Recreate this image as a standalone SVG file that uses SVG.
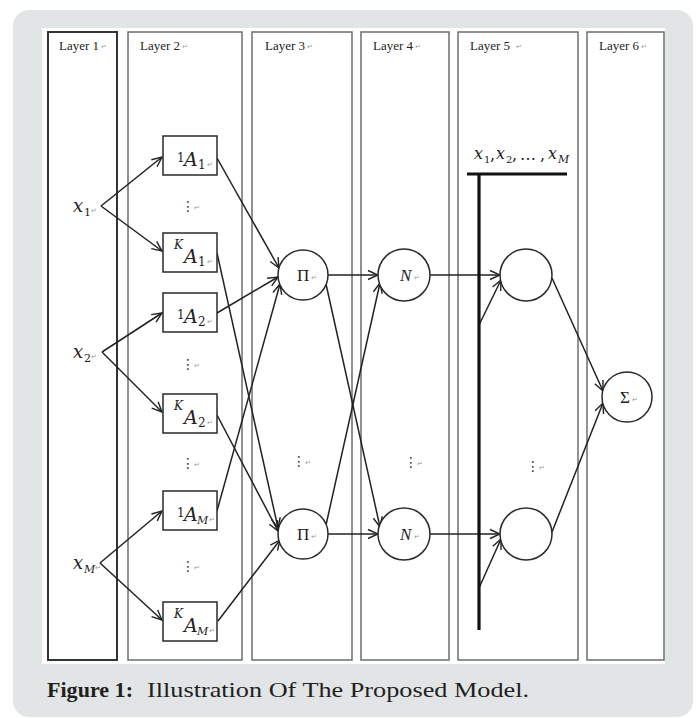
<svg xmlns="http://www.w3.org/2000/svg" width="696" height="718" viewBox="0 0 696 718">
<style>
.layer{fill:none;stroke:#6e6e6e;stroke-width:1.5}
.hdr{font-family:"Liberation Serif",serif;font-size:13px;fill:#222}
.ret{font-family:"DejaVu Sans",sans-serif;font-size:7px;fill:#9a9a9a}
.box{fill:#fff;stroke:#2a2a2a;stroke-width:1.5}
.circ{fill:#fff;stroke:#2a2a2a;stroke-width:1.5}
.m{font-family:"DejaVu Serif","Liberation Serif",serif;font-style:italic;fill:#222}
.s{font-family:"DejaVu Serif","Liberation Serif",serif;fill:#222}
.op{font-family:"Liberation Serif",serif;font-size:17px;fill:#222}
.dots{font-family:"DejaVu Sans",sans-serif;font-size:14px;fill:#333;text-anchor:middle}
.con{fill:none;stroke:#222;stroke-width:1.5;marker-end:url(#ah)}
.bus{fill:none;stroke:#111;stroke-width:3.2}
.cap{font-family:"Liberation Serif",serif;font-size:22px;fill:#231f20}
</style>
<defs>
<marker id="ah" markerUnits="userSpaceOnUse" markerWidth="12" markerHeight="12" viewBox="0 0 12 12" refX="11" refY="6" orient="auto">
<path d="M1,1.5 L11,6 L1,10.5" fill="none" stroke="#222" stroke-width="1.4"/>
</marker>
</defs>

<rect x="13" y="10" width="680" height="707" rx="16" fill="#e2e5e6"/>
<rect x="42" y="28" width="623" height="636" fill="#fff"/>

<g id="layers">
<rect x="48" y="32" width="69" height="628" fill="none" stroke="#333" stroke-width="2"/>
<rect class="layer" x="128" y="32" width="114" height="628"/>
<rect class="layer" x="252" y="32" width="100" height="628"/>
<rect class="layer" x="361" y="32" width="88" height="628"/>
<rect class="layer" x="458" y="32" width="120" height="628"/>
<rect class="layer" x="587" y="32" width="77" height="628"/>
<text class="hdr" x="59" y="50">Layer 1</text><text class="ret" x="101" y="49">↵</text>
<text class="hdr" x="140" y="50">Layer 2</text><text class="ret" x="182" y="49">↵</text>
<text class="hdr" x="265" y="50">Layer 3</text><text class="ret" x="307" y="49">↵</text>
<text class="hdr" x="373" y="50">Layer 4</text><text class="ret" x="415" y="49">↵</text>
<text class="hdr" x="470" y="50">Layer 5</text><text class="ret" x="516" y="49">↵</text>
<text class="hdr" x="599" y="50">Layer 6</text><text class="ret" x="641" y="49">↵</text>
</g>

<g id="dots">
<text class="dots" x="188" y="211">⋮</text><text class="ret" x="194" y="210">↵</text>
<text class="dots" x="188" y="369">⋮</text><text class="ret" x="194" y="368">↵</text>
<text class="dots" x="188" y="468">⋮</text><text class="ret" x="194" y="467">↵</text>
<text class="dots" x="188" y="571">⋮</text><text class="ret" x="194" y="570">↵</text>
<text class="dots" x="299" y="466">⋮</text><text class="ret" x="305" y="465">↵</text>
<text class="dots" x="411" y="467">⋮</text><text class="ret" x="417" y="466">↵</text>
<text class="dots" x="533" y="471">⋮</text><text class="ret" x="539" y="470">↵</text>
</g>

<g id="connectors">
<path class="con" d="M101,206 L162,157"/>
<path class="con" d="M101,206 L162,251"/>
<path class="con" d="M102,352 L162,313"/>
<path class="con" d="M102,352 L162,412"/>
<path class="con" d="M100,563 L162,511"/>
<path class="con" d="M100,563 L162,620"/>
<path class="con" d="M217,158 L279,268"/>
<path class="con" d="M217,313 L278,277"/>
<path class="con" d="M217,511 L280,284"/>
<path class="con" d="M217,253 L278,528"/>
<path class="con" d="M217,415 L278,531"/>
<path class="con" d="M218,621 L280,540"/>
<path class="con" d="M328,275 L378,275"/>
<path class="con" d="M326,284 L380,527"/>
<path class="con" d="M326,525 L380,283"/>
<path class="con" d="M328,534 L378,534"/>
<path class="con" d="M430,275 L500,275"/>
<path class="con" d="M430,534 L500,534"/>
<path class="con" d="M479,325 L501,280"/>
<path class="con" d="M479,588 L501,539"/>
<path class="con" d="M552,278 L603,391"/>
<path class="con" d="M552,532 L603,403"/>
</g>

<g id="bus">
<path class="bus" d="M467,174 L567,174 M479,174 L479,630"/>
<text class="m" x="474" y="159" font-size="16">x</text><text class="s" x="484" y="163" font-size="10">1</text>
<text class="s" x="490" y="160" font-size="16">,</text>
<text class="m" x="496" y="159" font-size="16">x</text><text class="s" x="506" y="163" font-size="10">2</text>
<text class="s" x="512" y="160" font-size="16">,</text>
<text class="s" x="520" y="160" font-size="16">…</text>
<text class="s" x="540" y="160" font-size="16">,</text>
<text class="m" x="548" y="159" font-size="16">x</text><text class="m" x="558" y="163" font-size="11">M</text>
</g>

<g id="x1"><text class="m" x="73" y="212" font-size="18">x</text><text class="s" x="84" y="216" font-size="11">1</text><text class="ret" x="91" y="213">↵</text></g>
<g id="x2"><text class="m" x="73" y="358" font-size="18">x</text><text class="s" x="84" y="362" font-size="11">2</text><text class="ret" x="91" y="359">↵</text></g>
<g id="xM"><text class="m" x="73" y="569" font-size="18">x</text><text class="m" x="84" y="573" font-size="11">M</text><text class="ret" x="95" y="570">↵</text></g>

<g id="A1_1"><rect class="box" x="163" y="136" width="54" height="39"/>
<text class="s" x="177" y="162" font-size="12">1</text><text class="m" x="184" y="166" font-size="19">A</text><text class="s" x="198" y="169" font-size="12">1</text><text class="ret" x="207" y="167">↵</text></g>
<g id="AK_1"><rect class="box" x="163" y="233" width="54" height="39"/>
<text class="m" x="174" y="249" font-size="12">K</text><text class="m" x="184" y="263" font-size="19">A</text><text class="s" x="198" y="266" font-size="12">1</text><text class="ret" x="207" y="264">↵</text></g>
<g id="A1_2"><rect class="box" x="163" y="293" width="54" height="39"/>
<text class="s" x="177" y="319" font-size="12">1</text><text class="m" x="184" y="323" font-size="19">A</text><text class="s" x="198" y="326" font-size="12">2</text><text class="ret" x="207" y="324">↵</text></g>
<g id="AK_2"><rect class="box" x="163" y="394" width="54" height="39"/>
<text class="m" x="174" y="410" font-size="12">K</text><text class="m" x="184" y="424" font-size="19">A</text><text class="s" x="198" y="427" font-size="12">2</text><text class="ret" x="207" y="425">↵</text></g>
<g id="A1_M"><rect class="box" x="163" y="491" width="54" height="39"/>
<text class="s" x="177" y="517" font-size="12">1</text><text class="m" x="184" y="521" font-size="19">A</text><text class="m" x="197" y="524" font-size="11">M</text><text class="ret" x="209" y="522">↵</text></g>
<g id="AK_M"><rect class="box" x="163" y="602" width="54" height="39"/>
<text class="m" x="174" y="618" font-size="12">K</text><text class="m" x="184" y="632" font-size="19">A</text><text class="m" x="197" y="635" font-size="11">M</text><text class="ret" x="209" y="633">↵</text></g>

<g id="Pi1"><circle class="circ" cx="303" cy="275" r="25"/><text class="op" x="297" y="281">Π</text><text class="ret" x="311" y="280">↵</text></g>
<g id="Pi2"><circle class="circ" cx="303" cy="534" r="25"/><text class="op" x="297" y="540">Π</text><text class="ret" x="311" y="539">↵</text></g>
<g id="N1"><circle class="circ" cx="404" cy="275" r="26"/><text class="op" x="400" y="281" font-style="italic">N</text><text class="ret" x="414" y="280">↵</text></g>
<g id="N2"><circle class="circ" cx="404" cy="534" r="26"/><text class="op" x="400" y="540" font-style="italic">N</text><text class="ret" x="414" y="539">↵</text></g>
<g id="L5a"><circle class="circ" cx="526" cy="275" r="26"/></g>
<g id="L5b"><circle class="circ" cx="526" cy="534" r="26"/></g>
<g id="Sigma"><circle class="circ" cx="627" cy="397" r="25"/><text class="op" x="620" y="403" font-size="16">Σ</text><text class="ret" x="632" y="402">↵</text></g>

<g id="caption">
<text class="cap" x="47" y="697" font-weight="bold" textLength="86" lengthAdjust="spacingAndGlyphs">Figure 1:</text>
<text class="cap" x="147" y="697" textLength="382" lengthAdjust="spacingAndGlyphs">Illustration Of The Proposed Model.</text>
</g>
</svg>
